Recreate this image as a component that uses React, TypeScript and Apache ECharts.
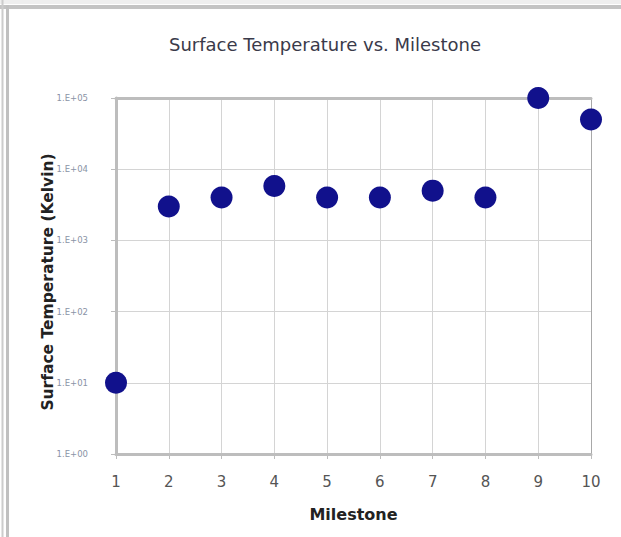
import React, { useEffect, useRef } from "react";
import * as echarts from "echarts";

const milestones = [1, 2, 3, 4, 5, 6, 7, 8, 9, 10];
const temperatures = [10, 3000, 4000, 5800, 4000, 4000, 5000, 4000, 100000, 50000];
const titleText = "Surface Temperature vs. Milestone";
const xName = "Milestone";
const yName = "Surface Temperature (Kelvin)";

const fmtExp = (v: number) => {
  const e = Math.round(Math.log10(v));
  return "1.E+" + (e < 10 ? "0" + e : String(e));
};

export default function App() {
  const ref = useRef<HTMLDivElement>(null);
  useEffect(() => {
    if (!ref.current) return;
    const chart = echarts.init(ref.current, null, { renderer: "svg" });
    const font = "'DejaVu Sans', Verdana, sans-serif";
    chart.setOption({
      animation: false,
      backgroundColor: "#ffffff",
      title: {
        text: titleText,
        left: 320,
        top: 30,
        textAlign: "center",
        textStyle: { fontFamily: font, fontSize: 18, fontWeight: "normal", color: "#3a3a4a" },
      },
      graphic: [
        { type: "rect", shape: { x: 0, y: 0, width: 621, height: 4 }, style: { fill: "#efefef" } },
        { type: "line", shape: { x1: 0, y1: 7, x2: 621, y2: 7 }, style: { stroke: "#c4c4c4", lineWidth: 4 } },
        { type: "line", shape: { x1: 2.5, y1: 0, x2: 2.5, y2: 537 }, style: { stroke: "#cccccc", lineWidth: 2 } },
        { type: "line", shape: { x1: 7.5, y1: 5, x2: 7.5, y2: 537 }, style: { stroke: "#c0c0c0", lineWidth: 3 } },
      ],
      grid: { left: 116, right: 30, top: 98, bottom: 83 },
      xAxis: [
        {
          type: "value",
          min: 1,
          max: 10,
          interval: 1,
          name: xName,
          nameLocation: "middle",
          nameGap: 52,
          nameMoveOverlap: false,
          nameTextStyle: { fontFamily: font, fontSize: 16, fontWeight: "bold", color: "#222" },
          axisLine: { show: true, onZero: false, lineStyle: { color: "#bdbdbd", width: 3 } },
          axisTick: { show: true, length: 5, lineStyle: { color: "#bdbdbd" } },
          axisLabel: { margin: 20, fontFamily: font, fontSize: 15, color: "#555" },
          splitLine: { show: true, lineStyle: { color: "#d4d4d4", width: 1 } },
        },
        {
          type: "value",
          position: "top",
          min: 1,
          max: 10,
          interval: 1,
          axisLine: { show: true, lineStyle: { color: "#bdbdbd", width: 3 } },
          axisTick: { show: false },
          axisLabel: { show: false },
          splitLine: { show: false },
        },
      ],
      yAxis: [
        {
          type: "log",
          logBase: 10,
          min: 1,
          max: 100000,
          name: yName,
          nameLocation: "middle",
          nameGap: 60,
          nameMoveOverlap: false,
          nameTextStyle: {
            fontFamily: font,
            fontSize: 15.5,
            fontWeight: "bold",
            color: "#222",
            padding: [0, 12, 0, 0],
          },
          axisLine: { show: true, lineStyle: { color: "#bdbdbd", width: 3 } },
          axisTick: { show: true, length: 5, lineStyle: { color: "#bdbdbd" } },
          axisLabel: {
            margin: 28,
            fontFamily: font,
            fontSize: 8.5,
            color: "#8a93a6",
            formatter: (v: number) => fmtExp(v),
          },
          splitLine: { show: true, lineStyle: { color: "#d4d4d4", width: 1 } },
        },
        {
          type: "log",
          logBase: 10,
          position: "right",
          min: 1,
          max: 100000,
          axisLine: { show: true, lineStyle: { color: "#a8a8a8", width: 1 } },
          axisTick: { show: false },
          axisLabel: { show: false },
          splitLine: { show: false },
        },
      ],
      series: [
        {
          type: "scatter",
          symbol: "circle",
          symbolSize: 22,
          itemStyle: { color: "#11118c", opacity: 1 },
          data: milestones.map((m, i) => [m, temperatures[i]]),
        },
      ],
    });
    return () => chart.dispose();
  }, []);
  return (
    <div
      ref={ref}
      style={{ position: "absolute", left: 0, top: 0, width: 621, height: 537 }}
    />
  );
}
